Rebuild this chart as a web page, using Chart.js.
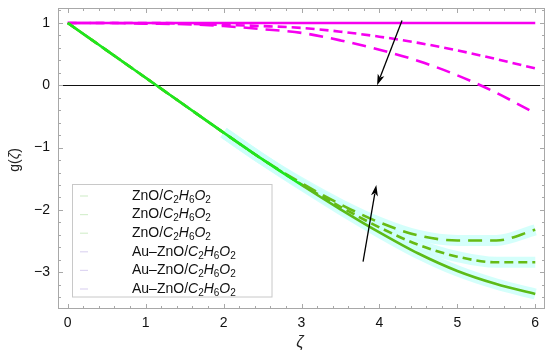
<!DOCTYPE html>
<html>
<head>
<meta charset="utf-8">
<script src="https://cdn.jsdelivr.net/npm/chart.js@4.4.0/dist/chart.umd.min.js"></script>
<style>
  html, body { margin: 0; padding: 0; background: #fff; }
  #wrap { width: 550px; height: 364px; }
</style>
</head>
<body>
<div id="wrap"><canvas id="myChart" width="550" height="364"></canvas></div>
<script>
// data
const zeta = [0, 0.5, 1, 1.5, 2, 2.5, 3, 3.5, 4, 4.5, 5, 5.5, 6];

// ZnO curves (green)
const gZnO_a = [1, 0.56, 0.12, -0.32, -0.76, -1.19, -1.60, -1.99, -2.36, -2.70, -2.98, -3.19, -3.35];
const gZnO_b = [1, 0.56, 0.12, -0.32, -0.76, -1.19, -1.59, -1.95, -2.28, -2.56, -2.75, -2.84, -2.84];
const gZnO_c = [1, 0.56, 0.12, -0.32, -0.76, -1.19, -1.57, -1.91, -2.20, -2.41, -2.49, -2.49, -2.32];

// Au-ZnO curves (magenta)
const gAu_a = [1, 1, 1, 1, 1, 1, 1, 1, 1, 1, 1, 1, 1];
const gAu_b = [1, 1, 1, 0.99, 0.97, 0.95, 0.92, 0.86, 0.78, 0.68, 0.56, 0.42, 0.27];
const gAu_c = [1, 1, 0.99, 0.98, 0.95, 0.90, 0.84, 0.72, 0.57, 0.39, 0.16, -0.12, -0.45];

const xTicks = [0, 1, 2, 3, 4, 5, 6];
const yTicks = [-3, -2, -1, 0, 1];

const legendLabels = ['ZnO/C2H6O2', 'ZnO/C2H6O2', 'ZnO/C2H6O2',
                      'Au\u2013ZnO/C2H6O2', 'Au\u2013ZnO/C2H6O2', 'Au\u2013ZnO/C2H6O2'];
const legendColors = ['#d6efcf', '#d6efcf', '#d6efcf', '#ded6f2', '#ded6f2', '#ded6f2'];

// arrows: [x1, y1, x2, y2] in data units, head at second point
const arrowsData = [[4.29, 1.04, 3.97, 0.0], [3.79, -2.83, 3.96, -1.60]];

const pts = arr => zeta.map((z, i) => ({ x: z, y: arr[i] }));
const tail = arr => pts(arr).slice(4);

const FONT = '"Liberation Sans", Arial, sans-serif';

function drawFormula(ctx, label, x, y) {
  const cut = label.indexOf('/') + 1;
  const pre = label.slice(0, cut);
  const chem = label.slice(cut);
  ctx.textBaseline = 'middle';
  ctx.textAlign = 'left';
  ctx.font = '14px ' + FONT;
  ctx.fillText(pre, x, y);
  x += ctx.measureText(pre).width;
  for (const ch of chem) {
    if (/[0-9]/.test(ch)) {
      ctx.font = '10px ' + FONT;
      ctx.fillText(ch, x, y + 4);
      x += ctx.measureText(ch).width;
    } else {
      ctx.font = 'italic 14px ' + FONT;
      ctx.fillText(ch, x, y);
      x += ctx.measureText(ch).width;
    }
  }
}

function drawArrow(ctx, x1, y1, x2, y2) {
  const ang = Math.atan2(y2 - y1, x2 - x1);
  const len = 11, half = 3.5;
  ctx.strokeStyle = '#000';
  ctx.fillStyle = '#000';
  ctx.lineWidth = 1.3;
  ctx.beginPath();
  ctx.moveTo(x1, y1);
  ctx.lineTo(x2 - Math.cos(ang) * len * 0.8, y2 - Math.sin(ang) * len * 0.8);
  ctx.stroke();
  ctx.beginPath();
  ctx.moveTo(x2, y2);
  ctx.lineTo(x2 - Math.cos(ang) * len + Math.sin(ang) * half, y2 - Math.sin(ang) * len - Math.cos(ang) * half);
  ctx.lineTo(x2 - Math.cos(ang) * len * 0.75, y2 - Math.sin(ang) * len * 0.75);
  ctx.lineTo(x2 - Math.cos(ang) * len - Math.sin(ang) * half, y2 - Math.sin(ang) * len + Math.cos(ang) * half);
  ctx.closePath();
  ctx.fill();
}

const decorPlugin = {
  id: 'decor',
  beforeDatasetsDraw(chart) {
    const { ctx, chartArea: a, scales: { y } } = chart;
    ctx.save();
    const y0 = Math.round(y.getPixelForValue(0)) + 0.5;
    ctx.strokeStyle = '#111';
    ctx.lineWidth = 1;
    ctx.beginPath();
    ctx.moveTo(a.left, y0);
    ctx.lineTo(a.right, y0);
    ctx.stroke();
    ctx.restore();
  },
  afterDraw(chart) {
    const { ctx, chartArea: a, scales: { x, y } } = chart;
    ctx.save();

    // frame
    ctx.strokeStyle = '#a8a8a8';
    ctx.lineWidth = 1;
    ctx.strokeRect(a.left + 0.5, a.top + 0.5, a.right - a.left - 1, a.bottom - a.top - 1);

    // ticks, inward, all four sides
    ctx.beginPath();
    for (let v = -0.2; v <= 6.2; v += 0.2) {
      const r = Math.round(v * 5) / 5;
      if (r < x.min || r > x.max) continue;
      const px = Math.round(x.getPixelForValue(r)) + 0.5;
      const L = Number.isInteger(r) ? 5 : 3;
      ctx.moveTo(px, a.bottom); ctx.lineTo(px, a.bottom - L);
      ctx.moveTo(px, a.top); ctx.lineTo(px, a.top + L);
    }
    for (let v = -3.6; v <= 1.4; v += 0.2) {
      const r = Math.round(v * 5) / 5;
      if (r < y.min || r > y.max) continue;
      const py = Math.round(y.getPixelForValue(r)) + 0.5;
      const L = Number.isInteger(r) ? 5 : 3;
      ctx.moveTo(a.left, py); ctx.lineTo(a.left + L, py);
      ctx.moveTo(a.right, py); ctx.lineTo(a.right - L, py);
    }
    ctx.stroke();

    // arrows
    arrowsData.forEach(d => {
      drawArrow(ctx, x.getPixelForValue(d[0]), y.getPixelForValue(d[1]),
                x.getPixelForValue(d[2]), y.getPixelForValue(d[3]));
    });

    // legend
    ctx.fillStyle = '#fff';
    ctx.fillRect(72.5, 184.5, 199.5, 112.5);
    ctx.strokeStyle = '#c8c8c8';
    ctx.lineWidth = 1;
    ctx.strokeRect(72.5, 184.5, 199.5, 112.5);
    legendLabels.forEach((lab, i) => {
      const ly = 196 + i * 18.6;
      ctx.strokeStyle = legendColors[i];
      ctx.lineWidth = 1.2;
      ctx.beginPath();
      ctx.moveTo(80, ly); ctx.lineTo(88, ly);
      ctx.stroke();
      ctx.fillStyle = '#111';
      drawFormula(ctx, lab, 132, ly);
    });

    // axis titles
    ctx.fillStyle = '#222';
    ctx.textAlign = 'center';
    ctx.textBaseline = 'middle';
    ctx.font = 'italic 16px ' + FONT;
    ctx.fillText('\u03B6', 300, 343);

    ctx.translate(15, 160);
    ctx.rotate(-Math.PI / 2);
    ctx.textAlign = 'left';
    ctx.font = '14px ' + FONT;
    const w1 = ctx.measureText('g(').width;
    ctx.font = 'italic 14px ' + FONT;
    const w2 = ctx.measureText('\u03B6').width;
    ctx.font = '14px ' + FONT;
    const w3 = ctx.measureText(')').width;
    let tx = -(w1 + w2 + w3) / 2;
    ctx.fillText('g(', tx, 0); tx += w1;
    ctx.font = 'italic 14px ' + FONT;
    ctx.fillText('\u03B6', tx, 0); tx += w2;
    ctx.font = '14px ' + FONT;
    ctx.fillText(')', tx, 0);

    ctx.restore();
  }
};

const glow = 'rgba(205,255,250,0.85)';
const olive = '#66bb14';

// first dataset is drawn on top
const ctx = document.getElementById('myChart').getContext('2d');
new Chart(ctx, {
  type: 'line',
  data: {
    datasets: [
      {
        data: pts(gZnO_a), borderColor: '#5cbb18', borderWidth: 2.6,
        segment: { borderColor: c => (c.p1.parsed.x <= 3 ? '#1ee61e' : '#5cbb18') }
      },
      { data: pts(gZnO_b), borderColor: olive, borderWidth: 2.6, borderDash: [9, 5] },
      { data: pts(gZnO_c), borderColor: olive, borderWidth: 2.6, borderDash: [14, 8] },
      { data: pts(gAu_c), borderColor: '#f600f0', borderWidth: 2.6, borderDash: [14, 8] },
      { data: pts(gAu_b), borderColor: '#f600f0', borderWidth: 2.6, borderDash: [9, 5] },
      { data: pts(gAu_a), borderColor: '#f600f0', borderWidth: 2.6 },
      { data: tail(gZnO_a), borderColor: glow, borderWidth: 11, borderCapStyle: 'butt' },
      { data: tail(gZnO_b), borderColor: glow, borderWidth: 11, borderCapStyle: 'butt' },
      { data: tail(gZnO_c), borderColor: glow, borderWidth: 11, borderCapStyle: 'butt' }
    ]
  },
  options: {
    responsive: false,
    animation: false,
    devicePixelRatio: 1,
    layout: { autoPadding: false, padding: { top: 8, right: 5, left: 0, bottom: 0 } },
    elements: {
      point: { radius: 0 },
      line: { cubicInterpolationMode: 'monotone', fill: false }
    },
    plugins: { legend: { display: false }, tooltip: { enabled: false } },
    scales: {
      x: {
        type: 'linear', min: -0.125, max: 6.125,
        grid: { display: false, drawTicks: false },
        border: { display: false },
        afterBuildTicks: s => { s.ticks = xTicks.map(v => ({ value: v })); },
        afterFit: s => { s.height = 55; s.paddingLeft = 0; s.paddingRight = 0; },
        ticks: { padding: 6, color: '#111', font: { family: FONT, size: 14 }, maxRotation: 0 }
      },
      y: {
        type: 'linear', min: -3.59, max: 1.24,
        grid: { display: false, drawTicks: false },
        border: { display: false },
        afterBuildTicks: s => { s.ticks = yTicks.map(v => ({ value: v })); },
        afterFit: s => { s.width = 58; s.paddingTop = 0; s.paddingBottom = 0; },
        ticks: {
          padding: 8, color: '#111', font: { family: FONT, size: 14 },
          callback: v => String(v).replace('-', '\u2212')
        }
      }
    }
  },
  plugins: [decorPlugin]
});
</script>
</body>
</html>
